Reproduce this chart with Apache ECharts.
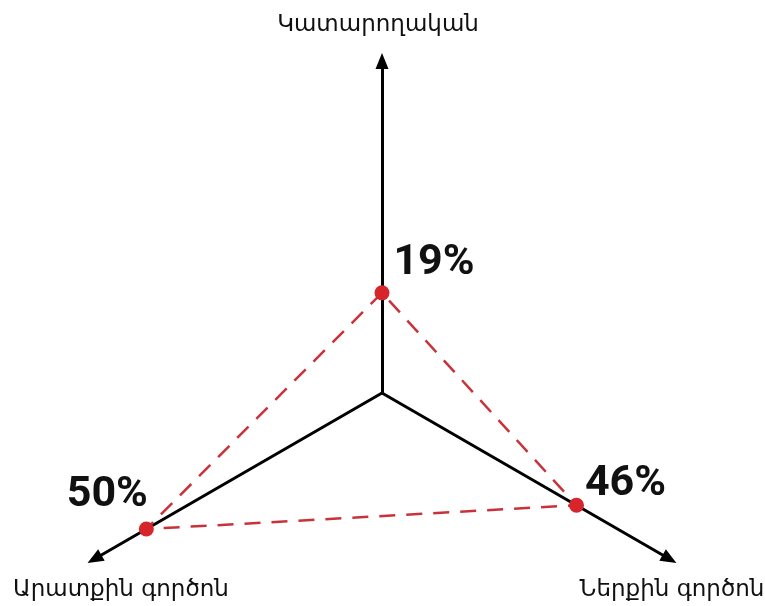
<!DOCTYPE html>
<html>
<head>
<meta charset="utf-8">
<script src="https://cdn.jsdelivr.net/npm/echarts@6/dist/echarts.min.js"></script>
<style>
html,body{margin:0;padding:0;background:#fff;}
#c{width:765px;height:606px;}
</style>
</head>
<body>
<div id="c"></div>
<script>
// Data
const categories = ['Կատարողական', 'Արատքին գործոն', 'Ներքին գործոն'];
const values = [19, 50, 46];
const axisMax = [63, 61, 68];

const chart = echarts.init(document.getElementById('c'));

// per-vertex label offsets (rich padding: [top, right, bottom, left])
const labelPad = [[0, 0, 60, 104], [0, 78, 68, 0], [0, 0, 42, 98]];
const rich = {};
labelPad.forEach((p, i) => {
  rich['d' + i] = {
    fontFamily: 'Roboto', fontWeight: 'bold', fontSize: 43, color: '#111',
    padding: p
  };
});

chart.setOption({
  animation: false,
  backgroundColor: '#fff',
  radar: {
    center: [382, 393],
    radius: 332,
    startAngle: 90,
    indicator: categories.map((c, i) => ({ name: c, max: axisMax[i], min: 0 })),
    axisName: { show: false },
    splitNumber: 1,
    splitLine: { show: false },
    splitArea: { show: false },
    axisTick: { show: false },
    axisLabel: { show: false },
    axisLine: {
      show: true,
      symbol: ['none', 'triangle'],
      symbolSize: [13, 16],
      lineStyle: { color: '#000', width: 3 }
    }
  },
  graphic: [
    { type: 'text', x: 378, y: 25, style: { text: categories[0], font: '23px "DejaVu Sans"', fill: '#111', align: 'center', verticalAlign: 'middle' } },
    { type: 'text', x: 121, y: 590, style: { text: categories[1], font: '23px "DejaVu Sans"', fill: '#111', align: 'center', verticalAlign: 'middle' } },
    { type: 'text', x: 672, y: 590, style: { text: categories[2], font: '23px "DejaVu Sans"', fill: '#111', align: 'center', verticalAlign: 'middle' } }
  ],
  series: [{
    type: 'radar',
    symbol: 'circle',
    symbolSize: 15,
    itemStyle: { color: '#d7252c' },
    lineStyle: { color: '#c9323a', width: 2.5, type: [16, 11] },
    label: {
      show: true,
      position: 'inside',
      align: 'center',
      verticalAlign: 'middle',
      formatter: function (p) {
        const i = values.indexOf(p.value);
        return '{d' + i + '|' + p.value + '%}';
      },
      rich: rich
    },
    data: [{ value: values }]
  }]
});
</script>
</body>
</html>
